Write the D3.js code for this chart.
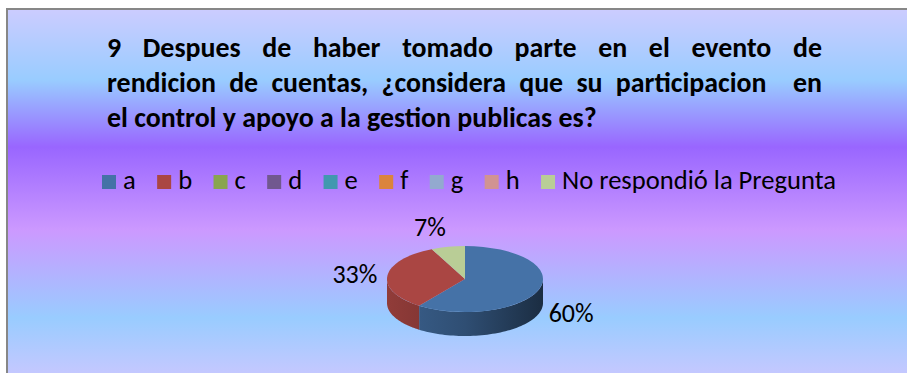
<!DOCTYPE html>
<html>
<head>
<meta charset="utf-8">
<script src="https://cdn.jsdelivr.net/npm/d3@7"></script>
<style>
  html, body { margin: 0; padding: 0; background: #ffffff; }
  svg { display: block; }
</style>
</head>
<body>
<svg id="chart" width="907" height="373"></svg>
<script>
// ---- data -------------------------------------------------------------
const titleLines = [
  "9 Despues de haber tomado parte en el evento de",
  "rendicion de cuentas, ¿considera que su participacion  en",
  "el control y apoyo a la gestion publicas es?"
];
const categories = ["a", "b", "c", "d", "e", "f", "g", "h", "No respondió la Pregunta"];
const values = [60, 33, 0, 0, 0, 0, 0, 0, 7];
const valueLabels = ["60%", "33%", "0%", "0%", "0%", "0%", "0%", "0%", "7%"];
const colors = ["#4572A7", "#AA4643", "#89A54E", "#71588F", "#4198AF",
                "#DB843D", "#93A9CF", "#D19392", "#B9CD96"];

// ---- layout -----------------------------------------------------------
const W = 907, H = 373;
const FONT = "Carlito, Calibri, Lato, sans-serif";
const svg = d3.select("#chart");
const defs = svg.append("defs");

// chart area background
const bg = defs.append("linearGradient")
  .attr("id", "bgGrad").attr("gradientUnits", "userSpaceOnUse")
  .attr("x1", 0).attr("x2", 0).attr("y1", 9).attr("y2", 373);
[[0, "#ccccff"], [71, "#99ccff"], [138, "#9966ff"], [221, "#cc99ff"],
 [309, "#99ccff"], [364, "#c4c8ff"]].forEach(([o, c]) =>
  bg.append("stop").attr("offset", o / 364).attr("stop-color", c));

svg.append("rect")
  .attr("x", 7).attr("y", 9).attr("width", W + 10).attr("height", H + 10)
  .attr("fill", "url(#bgGrad)")
  .attr("stroke", "#878787").attr("stroke-width", 2);

// measuring helper
function textWidth(str, size, weight) {
  const t = svg.append("text").attr("font-family", FONT)
    .attr("font-size", size).attr("font-weight", weight || "normal")
    .style("white-space", "pre").text(str);
  const w = t.node().getComputedTextLength();
  t.remove();
  return w;
}

// ---- title (justified paragraph) -------------------------------------
const titleLeft = 107, titleRight = 822;
const titleSize = 24 * 490 / textWidth(titleLines[2], 24, "bold");
const titleBase = [57, 92, 127];
const title = svg.append("g").attr("font-family", FONT)
  .attr("font-size", titleSize).attr("font-weight", "bold").attr("fill", "#000");

titleLines.forEach((line, i) => {
  const tokens = line.split(" ");
  if (i === titleLines.length - 1) {
    title.append("text").attr("x", titleLeft).attr("y", titleBase[i])
      .style("white-space", "pre").text(line);
    return;
  }
  const widths = tokens.map(t => t ? textWidth(t, titleSize, "bold") : 0);
  const gap = (titleRight - titleLeft - d3.sum(widths)) / (tokens.length - 1);
  let x = titleLeft;
  tokens.forEach((t, k) => {
    if (t) title.append("text").attr("x", x).attr("y", titleBase[i]).text(t);
    x += widths[k] + gap;
  });
});

// ---- legend -----------------------------------------------------------
const legendSize = 22 * 274 / textWidth(categories[8], 22);
const sw = 14, swPad = 7;
const legendWidths = categories.map(c => textWidth(c, legendSize));
const legendLeft = 102, legendRight = 836;
const itemGap = (legendRight - legendLeft - d3.sum(legendWidths) -
  categories.length * (sw + swPad)) / (categories.length - 1);
const legendX = [];
categories.reduce((x, c, i) => { legendX.push(x); return x + sw + swPad + legendWidths[i] + itemGap; }, legendLeft);

const legend = svg.append("g").attr("font-family", FONT).attr("font-size", legendSize);
const items = legend.selectAll("g").data(categories).join("g")
  .attr("transform", (d, i) => `translate(${legendX[i]},0)`);
items.append("rect").attr("x", 0).attr("y", 175).attr("width", sw).attr("height", sw)
  .attr("fill", (d, i) => colors[i]);
items.append("text").attr("x", sw + swPad).attr("y", 189).attr("fill", "#000").text(d => d);

// ---- 3D pie -----------------------------------------------------------
const cx = 465, cy = 279, rx = 78, ry = 33, depth = 24;
const pie = d3.pie().sort(null).value(d => d.value);
const slices = pie(categories.map((c, i) => ({ name: c, value: values[i], color: colors[i], label: valueLabels[i] })))
  .filter(s => s.data.value > 0);

const ex = a => cx + rx * Math.sin(a);
const ey = a => cy - ry * Math.cos(a);

// side wall shading runs left to right across the pie
slices.forEach((s, i) => {
  const c = d3.color(s.data.color);
  const g = defs.append("linearGradient").attr("id", "side" + i)
    .attr("gradientUnits", "userSpaceOnUse")
    .attr("x1", cx - rx).attr("x2", cx + rx).attr("y1", 0).attr("y2", 0);
  g.append("stop").attr("offset", 0).attr("stop-color", c.darker(0.45));
  g.append("stop").attr("offset", 0.5).attr("stop-color", c.darker(1.05));
  g.append("stop").attr("offset", 1).attr("stop-color", c.darker(2.6));
});

const line = d3.line();
const pieG = svg.append("g");
slices.forEach((s, i) => {
  const a0 = Math.max(s.startAngle, Math.PI / 2);
  const a1 = Math.min(s.endAngle, 3 * Math.PI / 2);
  if (a0 >= a1) return;
  const steps = d3.range(0, 61).map(k => a0 + (a1 - a0) * k / 60);
  const top = steps.map(a => [ex(a), ey(a)]);
  const bottom = steps.slice().reverse().map(a => [ex(a), ey(a) + depth]);
  pieG.append("path").attr("d", line(top.concat(bottom)) + "Z")
    .attr("fill", `url(#side${i})`);
});

const topFace = pieG.append("g")
  .attr("transform", `translate(${cx},${cy}) scale(1,${ry / rx})`);
const arc = d3.arc().innerRadius(0).outerRadius(rx);
topFace.selectAll("path").data(slices).join("path")
  .attr("d", arc).attr("fill", d => d.data.color);

// ---- data labels ------------------------------------------------------
const labelSize = 22 * 45 / textWidth("60%", 22);
svg.append("g").attr("font-family", FONT).attr("font-size", labelSize)
  .selectAll("text").data(slices).join("text")
  .attr("x", d => {
    const a = (d.startAngle + d.endAngle) / 2;
    return cx + (rx + 10) * Math.sin(a);
  })
  .attr("y", d => {
    const a = (d.startAngle + d.endAngle) / 2;
    const c = Math.cos(a);
    return cy - (ry + 20) * c + (c < 0 ? 0.75 * depth : 0);
  })
  .attr("dy", "0.35em")
  .attr("text-anchor", d => Math.sin((d.startAngle + d.endAngle) / 2) >= 0 ? "start" : "end")
  .attr("fill", "#000")
  .text(d => d.data.label);
</script>
</body>
</html>
